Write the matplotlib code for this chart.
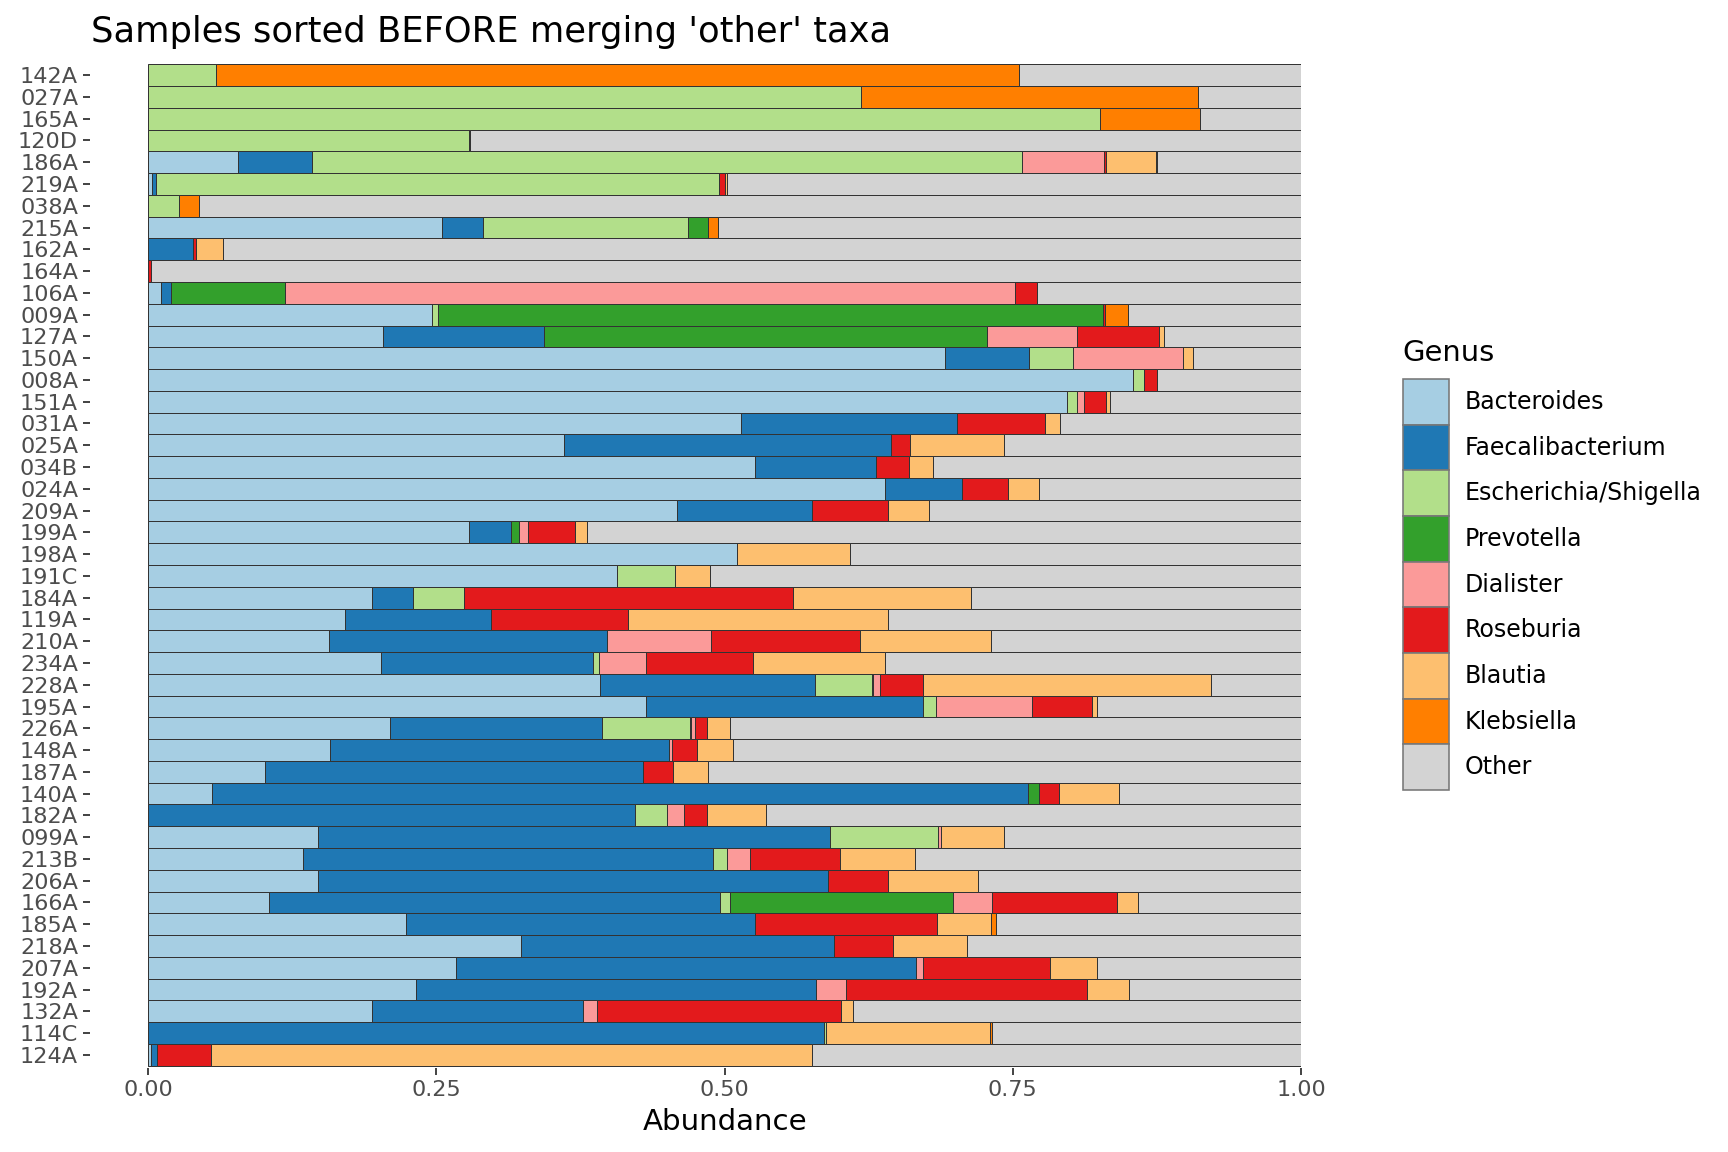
import numpy as np
import matplotlib
matplotlib.use("Agg")
import matplotlib.pyplot as plt
from matplotlib.patches import Patch

# ──────────────────────────────────────────────
# Data
# ──────────────────────────────────────────────
samples = [
    "142A", "027A", "165A", "120D", "186A", "219A", "038A", "215A", "162A", "164A",
    "106A", "009A", "127A", "150A", "008A", "151A", "031A", "025A", "034B", "024A",
    "209A", "199A", "198A", "191C", "184A", "119A", "210A", "234A", "228A", "195A",
    "226A", "148A", "187A", "140A", "182A", "099A", "213B", "206A", "166A", "185A",
    "218A", "207A", "192A", "132A", "114C", "124A",
]

bacteroides = [
    0, 0, 0, 0, 0.078, 0.003, 0, 0.255, 0, 0,
    0.011, 0.246, 0.204, 0.691, 0.854, 0.797, 0.514, 0.361, 0.526, 0.639,
    0.459, 0.278, 0.511, 0.407, 0.194, 0.171, 0.157, 0.202, 0.392, 0.432,
    0.210, 0.158, 0.101, 0.055, 0, 0.147, 0.134, 0.147, 0.105, 0.224,
    0.323, 0.267, 0.232, 0.194, 0, 0.002,
]
faecalibacterium = [
    0, 0, 0, 0, 0.064, 0.004, 0, 0.035, 0.039, 0,
    0.009, 0, 0.139, 0.073, 0, 0, 0.188, 0.283, 0.105, 0.067,
    0.117, 0.037, 0, 0, 0.036, 0.126, 0.241, 0.184, 0.186, 0.240,
    0.184, 0.294, 0.328, 0.708, 0.422, 0.444, 0.356, 0.443, 0.391, 0.302,
    0.272, 0.399, 0.347, 0.183, 0.586, 0.006,
]
escherichia = [
    0.059, 0.618, 0.826, 0.278, 0.616, 0.488, 0.027, 0.178, 0, 0,
    0, 0.005, 0, 0.038, 0.010, 0.009, 0, 0, 0, 0,
    0, 0, 0, 0.050, 0.044, 0, 0, 0.005, 0.050, 0.011,
    0.076, 0, 0, 0, 0.028, 0.094, 0.012, 0, 0.009, 0,
    0, 0, 0, 0, 0.002, 0,
]
prevotella = [
    0, 0, 0, 0, 0, 0, 0, 0.018, 0, 0,
    0.099, 0.577, 0.385, 0, 0, 0, 0, 0, 0, 0,
    0, 0.007, 0, 0, 0, 0, 0, 0, 0.001, 0,
    0.001, 0, 0, 0.010, 0, 0, 0, 0, 0.193, 0,
    0, 0, 0, 0, 0, 0,
]
dialister = [
    0, 0, 0, 0, 0.071, 0, 0, 0, 0, 0,
    0.633, 0, 0.078, 0.096, 0, 0.006, 0, 0, 0, 0,
    0, 0.007, 0, 0, 0, 0, 0.090, 0.041, 0.006, 0.084,
    0.003, 0.002, 0, 0, 0.015, 0.003, 0.020, 0, 0.034, 0,
    0, 0.006, 0.026, 0.012, 0, 0,
]
roseburia = [
    0, 0, 0, 0.001, 0.002, 0.005, 0, 0, 0.002, 0.002,
    0.019, 0.002, 0.071, 0, 0.011, 0.019, 0.076, 0.017, 0.029, 0.040,
    0.066, 0.041, 0, 0, 0.285, 0.119, 0.129, 0.093, 0.037, 0.052,
    0.011, 0.022, 0.026, 0.017, 0.020, 0, 0.078, 0.052, 0.108, 0.158,
    0.051, 0.110, 0.209, 0.212, 0, 0.046,
]
blautia = [
    0, 0, 0, 0, 0.043, 0.002, 0, 0, 0.024, 0,
    0, 0, 0.004, 0.008, 0, 0.003, 0.013, 0.081, 0.021, 0.027,
    0.035, 0.011, 0.098, 0.030, 0.155, 0.226, 0.114, 0.114, 0.250, 0.004,
    0.020, 0.031, 0.031, 0.052, 0.051, 0.054, 0.065, 0.078, 0.019, 0.047,
    0.064, 0.041, 0.037, 0.010, 0.142, 0.522,
]
klebsiella = [
    0.696, 0.293, 0.086, 0, 0.001, 0, 0.017, 0.008, 0, 0,
    0, 0.020, 0, 0, 0, 0, 0, 0, 0, 0,
    0, 0, 0, 0, 0, 0, 0, 0, 0, 0,
    0, 0, 0, 0, 0, 0, 0, 0, 0, 0.004,
    0, 0, 0, 0, 0.002, 0,
]

genera = ["Bacteroides", "Faecalibacterium", "Escherichia/Shigella", "Prevotella",
          "Dialister", "Roseburia", "Blautia", "Klebsiella", "Other"]
colors = ["#A6CEE3", "#1F78B4", "#B2DF8A", "#33A02C", "#FB9A99",
          "#E31A1C", "#FDBF6F", "#FF7F00", "#D3D3D3"]

named = [bacteroides, faecalibacterium, escherichia, prevotella,
         dialister, roseburia, blautia, klebsiella]
# whatever is left of each sample is "Other"
other = list(1 - np.array(named).sum(axis=0))
series = named + [other]

# ──────────────────────────────────────────────
# Plot
# ──────────────────────────────────────────────
plt.rcParams["font.family"] = ["DejaVu Sans"]

fig = plt.figure(figsize=(12, 8), dpi=144)
ax = fig.add_axes([0.0858, 0.0730, 0.6671, 0.8731])

y = np.arange(len(samples))
left = np.zeros(len(samples))
for vals, col in zip(series, colors):
    vals = np.array(vals)
    mask = vals > 0
    ax.barh(y[mask], vals[mask], left=left[mask], height=1.0, color=col,
            edgecolor="#333333", linewidth=0.5)
    left += vals

ax.set_xlim(0, 1)
ax.set_ylim(len(samples) - 0.4, -0.6)
ax.set_yticks(y)
ax.set_yticklabels(samples)
ax.set_xticks([0, 0.25, 0.5, 0.75, 1.0])
ax.set_xticklabels(["0.00", "0.25", "0.50", "0.75", "1.00"])

for s in ax.spines.values():
    s.set_color("none")
ax.spines["left"].set_position(("outward", 29))
ax.tick_params(axis="y", length=3.6, width=0.9, color="#333333", pad=2.5,
               labelsize=11.2, labelcolor="#4D4D4D")
ax.tick_params(axis="x", length=3.4, width=0.9, color="#333333", pad=2.5,
               labelsize=11.2, labelcolor="#4D4D4D")
ax.set_xlabel("Abundance", fontsize=14.6, labelpad=4)

fig.text(91 / 1728, 1 - 42 / 1152, "Samples sorted BEFORE merging 'other' taxa",
         fontsize=17.6, ha="left", va="baseline")

# legend: title as its own text, colour keys stacked flush below it
fig.text(1402 / 1728, 1 - 361 / 1152, "Genus", fontsize=14.5,
         ha="left", va="baseline")
handles = [Patch(facecolor=c, edgecolor="#777777", linewidth=0.8) for c in colors]
leg = fig.legend(handles, genera, loc="upper left",
                 bbox_to_anchor=(1403 / 1728, 1 - 379 / 1152), frameon=False,
                 fontsize=11.8, handlelength=1.95, handleheight=2.60,
                 labelspacing=0.0, handletextpad=0.68,
                 borderpad=0, borderaxespad=0)

fig.savefig("out.png", dpi=144)
